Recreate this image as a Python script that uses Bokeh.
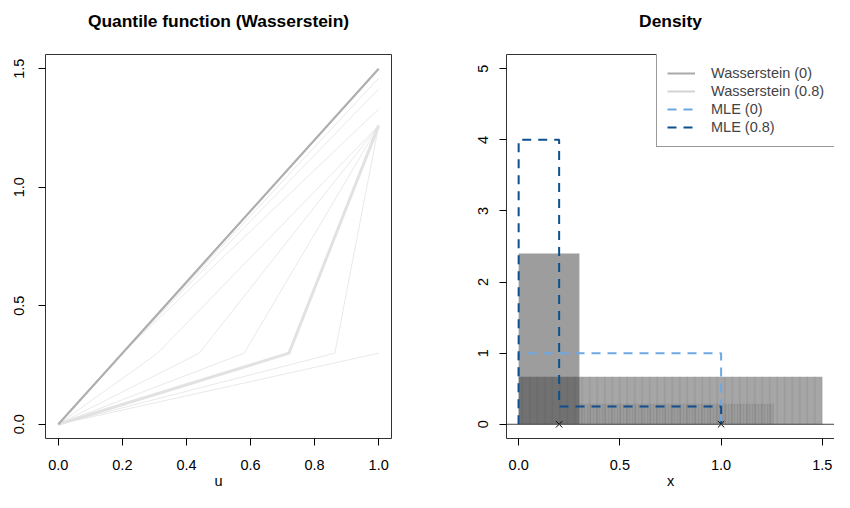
from bokeh.plotting import figure
from bokeh.layouts import row
from bokeh.models import Range1d, FixedTicker, LinearAxis, Span, Legend, LegendItem
from bokeh.embed import file_html
from bokeh.resources import INLINE

# ---------------- data ----------------
# Left panel: quantile functions, piecewise linear with a knot at q = 0.3
q_knot = 0.3
path_u_kink = [0.2, 0.2, 0.2, 0.31, 0.44, 0.58, 0.863, 1.0]
path_q_end = [1.46, 1.415, 1.33, 1.26, 1.26, 1.26, 1.26, 0.3]
w0_u = [0.0, 0.2, 1.0]
w0_q = [0.0, 0.3, 1.5]
w8_u = [0.0, 0.72, 1.0]
w8_q = [0.0, 0.3, 1.26]

# Right panel: piecewise constant densities
w0_left, w0_right, w0_dens = [0.0], [1.5], [0.667]
w8_left, w8_right, w8_dens = [0.0, 0.3], [0.3, 1.26], [2.4, 0.29]
mle0_left, mle0_right, mle0_dens = [0.0], [1.0], [1.0]
mle8_left, mle8_right, mle8_dens = [0.0, 0.2], [0.2, 1.0], [4.0, 0.25]
obs_x = [0.2, 1.0]
obs_y = [0.0, 0.0]

left_xticks = [0.0, 0.2, 0.4, 0.6, 0.8, 1.0]
left_xlabels = ["0.0", "0.2", "0.4", "0.6", "0.8", "1.0"]
left_yticks = [0.0, 0.5, 1.0, 1.5]
left_ylabels = ["0.0", "0.5", "1.0", "1.5"]
right_xticks = [0.0, 0.5, 1.0, 1.5]
right_xlabels = ["0.0", "0.5", "1.0", "1.5"]
right_yticks = [0, 1, 2, 3, 4, 5]
right_ylabels = ["0", "1", "2", "3", "4", "5"]

titles = ["Quantile function (Wasserstein)", "Density"]
xlabels = ["u", "x"]
legend_labels = ["Wasserstein (0)", "Wasserstein (0.8)", "MLE (0)", "MLE (0.8)"]

FONT = "Liberation Sans"
TICK_FS = "14.5px"
TITLE_FS = "17.4px"

C_W0 = "#a9a9a9"
C_W8 = "#d3d3d3"
C_MLE0 = "#6fa7e3"
C_MLE8 = "#0e4f8e"

FRAME_H = 384


def step_path(lefts, rights, dens):
    xs, ys = [lefts[0]], [0.0]
    for l, r, d in zip(lefts, rights, dens):
        xs += [l, r]
        ys += [d, d]
    xs.append(rights[-1])
    ys.append(0.0)
    return xs, ys


def style_axis(ax, ticks, labels, vertical=False, standoff=14):
    ax.ticker = FixedTicker(ticks=ticks)
    ax.major_label_overrides = dict(zip(ticks, labels))
    ax.minor_tick_line_color = None
    ax.major_tick_in = 0
    ax.major_tick_out = 7
    ax.major_tick_line_color = "black"
    ax.major_label_text_font = FONT
    ax.major_label_text_font_size = TICK_FS
    ax.major_label_text_color = "black"
    ax.axis_label_text_font = FONT
    ax.axis_label_text_font_size = TICK_FS
    ax.axis_label_text_font_style = "normal"
    ax.axis_label_text_color = "black"
    ax.major_label_standoff = standoff
    if vertical:
        ax.major_label_orientation = "vertical"
    else:
        ax.axis_label_standoff = 0


def add_title_axis(p, text, line_color):
    ax = LinearAxis(ticker=FixedTicker(ticks=[]), major_tick_out=0, major_tick_in=0,
                    major_label_standoff=0, minor_tick_line_color=None,
                    axis_line_color=line_color, axis_label=text,
                    axis_label_standoff=24, axis_label_text_font=FONT,
                    axis_label_text_font_size=TITLE_FS,
                    axis_label_text_font_style="bold",
                    axis_label_text_color="black")
    p.add_layout(ax, "above")


# ---------------- left panel ----------------
p1 = figure(width=420, height=492, output_backend="svg", toolbar_location=None,
            x_range=Range1d(-0.04, 1.04), y_range=Range1d(-0.06, 1.56),
            min_border_left=45, min_border_right=29, min_border_top=54,
            min_border_bottom=54)
p1.grid.visible = False
p1.outline_line_color = "#333333"
p1.outline_line_width = 1
p1.xaxis.axis_label = xlabels[0]
style_axis(p1.xaxis[0], left_xticks, left_xlabels)
style_axis(p1.yaxis[0], left_yticks, left_ylabels, vertical=True, standoff=14)
p1.xaxis.axis_line_color = None
p1.yaxis.axis_line_color = None
add_title_axis(p1, titles[0], None)

for uk, qe in zip(path_u_kink, path_q_end):
    p1.line([0.0, uk, 1.0], [0.0, min(q_knot, qe), qe], line_color="black",
            line_alpha=0.09, line_width=1)
p1.line(w8_u, w8_q, line_color="#e2e2e2", line_width=3)
p1.line(w0_u, w0_q, line_color="#aeaeae", line_width=2.2)

# ---------------- right panel ----------------
p2 = figure(width=414, height=492, output_backend="svg", toolbar_location=None,
            x_range=Range1d(-0.06, 1.56), y_range=Range1d(-0.2, 5.2),
            min_border_left=86, min_border_right=0, min_border_top=54,
            min_border_bottom=54)
p2.grid.visible = False
p2.outline_line_color = None
p2.xaxis.axis_label = xlabels[1]
style_axis(p2.xaxis[0], right_xticks, right_xlabels)
style_axis(p2.yaxis[0], right_yticks, right_ylabels, vertical=True, standoff=11)
p2.xaxis.axis_line_color = "#333333"
p2.yaxis.axis_line_color = "#333333"
add_title_axis(p2, titles[1], "#333333")

# Wasserstein (0) density
p2.quad(left=w0_left, right=w0_right, bottom=0, top=w0_dens,
        fill_color="black", fill_alpha=0.35, line_color=None,
        hatch_pattern="vertical_line", hatch_scale=7.5, hatch_color="black",
        hatch_alpha=0.10, hatch_weight=1)
# Wasserstein (0.8) density: tall part and low tail
p2.quad(left=w8_left[:1], right=w8_right[:1], bottom=0, top=w8_dens[:1],
        fill_color="#3b3b3b", fill_alpha=0.5, line_color=None)
p2.quad(left=w8_left[1:], right=w8_right[1:], bottom=0, top=w8_dens[1:],
        fill_color="#3b3b3b", fill_alpha=0.10, line_color=None,
        hatch_pattern="vertical_line", hatch_scale=3, hatch_color="black",
        hatch_alpha=0.06, hatch_weight=1)

# density outlines, used only as legend glyphs
wx0, wy0 = step_path(w0_left, w0_right, w0_dens)
wx8, wy8 = step_path(w8_left, w8_right, w8_dens)
r_w0 = p2.line(wx0, wy0, line_color=C_W0, line_width=2, visible=False)
r_w8 = p2.line(wx8, wy8, line_color=C_W8, line_width=2, visible=False)

p2.add_layout(Span(location=0, dimension="width", line_color="#444444", line_width=1))

mx0, my0 = step_path(mle0_left, mle0_right, mle0_dens)
mx8, my8 = step_path(mle8_left, mle8_right, mle8_dens)
r_m0 = p2.line(mx0, my0, line_color=C_MLE0, line_width=2, line_dash="9 7")
r_m8 = p2.line(mx8, my8, line_color=C_MLE8, line_width=2, line_dash="9 7")
p2.scatter(obs_x, obs_y, marker="x", size=9, line_color="black", line_width=1)

legend = Legend(items=[LegendItem(label=legend_labels[0], renderers=[r_w0]),
                       LegendItem(label=legend_labels[1], renderers=[r_w8]),
                       LegendItem(label=legend_labels[2], renderers=[r_m0]),
                       LegendItem(label=legend_labels[3], renderers=[r_m8])],
                location=(150, FRAME_H - 93), orientation="vertical",
                border_line_color="#333333", border_line_width=1,
                background_fill_color="white", background_fill_alpha=1.0,
                label_text_font=FONT, label_text_font_size=TICK_FS,
                glyph_width=28, glyph_height=18, label_height=18,
                label_standoff=16, padding=10, spacing=0, margin=0)
p2.add_layout(legend)

layout = row(p1, p2)
open("out.html", "w").write(file_html(layout, INLINE))
